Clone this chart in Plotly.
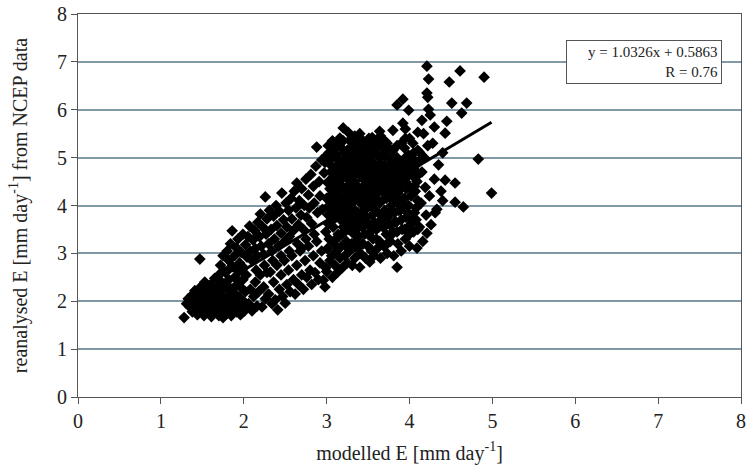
import plotly.graph_objects as go

# Estimated (modelled E, reanalysed E) pairs, grouped by region
low_cluster = [
(1.28,1.66),(1.31,1.95),(1.33,2.05),(1.35,1.88),(1.37,2.12),(1.38,1.78),(1.40,2.00),(1.41,2.22),(1.42,1.85),(1.44,1.72),
(1.45,2.08),(1.46,1.95),(1.47,2.88),(1.48,2.30),(1.49,1.80),(1.50,2.15),(1.51,1.98),(1.52,1.70),(1.53,2.40),(1.54,2.05),
(1.55,1.88),(1.56,2.25),(1.57,1.76),(1.58,2.10),(1.59,1.95),(1.60,2.35),(1.61,1.68),(1.62,2.02),(1.63,2.18),(1.64,1.85),
(1.65,2.48),(1.66,1.92),(1.67,2.28),(1.68,1.74),(1.69,2.10),(1.70,2.55),(1.71,1.98),(1.72,2.20),(1.73,1.82),(1.74,2.38),
(1.75,1.66),(1.76,2.05),(1.77,2.62),(1.78,1.90),(1.79,2.30),(1.80,1.75),(1.81,2.12),(1.82,2.45),(1.83,1.95),(1.84,2.70),
(1.85,1.70),(1.86,2.25),(1.87,2.02),(1.88,1.85),(1.89,2.50),(1.90,2.15),(1.91,1.78),(1.92,2.35),(1.93,1.95),(1.94,2.62),
(1.95,2.08),(1.96,1.72),(1.97,2.28),(1.98,1.88),(1.99,2.45),(2.00,2.00),(2.01,1.80),(2.02,2.20),(2.03,2.55),(2.05,1.92),
(1.36,1.98),(1.43,2.15),(1.52,1.85),(1.58,1.80),(1.63,1.95),(1.69,1.88),(1.74,1.95),(1.79,2.05),(1.84,1.92),(1.90,1.98),
(1.46,1.82),(1.55,2.12),(1.66,2.20),(1.72,2.42),(1.81,2.32),(1.88,2.15),(1.62,1.75),(1.70,1.70),(1.78,1.72),(1.94,1.82),
]

upper_band = [
(1.72,2.75),(1.75,2.95),(1.78,2.60),(1.80,3.05),(1.82,2.85),(1.84,3.20),(1.86,3.47),(1.87,2.72),(1.89,2.95),(1.91,3.12),
(1.93,3.30),(1.95,2.80),(1.97,3.02),(1.99,3.40),(2.00,2.70),(2.02,3.18),(2.04,2.92),(2.05,3.35),(2.07,3.57),(2.08,3.05),
(2.10,2.85),(2.11,3.28),(2.13,3.48),(2.14,3.10),(2.16,2.95),(2.17,3.65),(2.19,3.35),(2.20,3.82),(2.21,3.15),(2.23,3.55),
(2.24,2.98),(2.26,4.18),(2.27,3.40),(2.28,3.72),(2.30,3.20),(2.31,3.90),(2.33,3.50),(2.34,3.05),(2.36,3.78),(2.37,3.30),
(2.39,4.00),(2.40,3.58),(2.42,3.15),(2.43,3.88),(2.45,3.42),(2.46,4.26),(2.48,3.70),(2.49,3.25),(2.51,4.05),(2.52,3.55),
(2.54,3.90),(2.55,3.35),(2.57,4.15),(2.58,3.72),(2.60,3.48),(2.61,4.30),(2.63,3.95),(2.64,4.47),(2.66,3.60),(2.67,4.10),
(2.69,3.80),(2.70,4.35),(2.72,3.50),(2.73,4.00),(2.75,4.55),(2.76,3.75),(2.78,4.22),(2.79,3.95),(2.81,4.65),(2.82,3.62),
(2.84,4.40),(2.85,4.05),(2.87,4.82),(2.88,5.22),(2.89,3.85),(2.91,4.50),(2.92,4.20),(2.94,4.95),(2.95,3.92),(2.97,4.68),
]

lower_band = [
(2.06,1.95),(2.08,2.25),(2.10,1.80),(2.12,2.10),(2.14,2.40),(2.16,1.90),(2.18,2.20),(2.20,2.55),(2.22,1.88),(2.24,2.30),
(2.26,2.05),(2.28,2.60),(2.30,2.15),(2.32,2.61),(2.34,1.95),(2.36,2.40),(2.38,2.03),(2.40,2.75),(2.41,1.82),(2.43,2.25),
(2.45,2.55),(2.47,2.10),(2.49,2.85),(2.50,1.96),(2.52,2.35),(2.54,2.65),(2.56,2.20),(2.58,2.95),(2.60,2.45),(2.62,2.15),
(2.64,2.75),(2.66,2.35),(2.68,3.05),(2.70,2.55),(2.70,3.11),(2.72,2.25),(2.74,2.85),(2.76,2.50),(2.78,3.15),(2.80,2.65),
(2.82,2.35),(2.84,2.95),(2.86,2.60),(2.88,3.25),(2.90,2.45),(2.92,2.80),(2.94,3.05),(2.96,2.44),(2.98,2.30),(2.99,2.70),
(2.15,2.65),(2.25,2.75),(2.35,2.85),(2.45,2.95),(2.55,3.05),(2.65,3.20),(2.75,3.30),(2.85,3.40),
]

core = [
(3.00,2.62),(3.01,3.10),(2.99,3.45),(3.02,3.80),(3.00,4.15),(3.01,4.48),(2.98,4.90),(3.02,5.25),
(3.04,2.85),(3.03,3.30),(3.05,3.65),(3.03,4.00),(3.04,4.35),(3.05,4.70),(3.03,5.10),
(3.07,2.50),(3.06,2.95),(3.08,3.55),(3.06,3.90),(3.07,4.25),(3.08,4.60),(3.06,5.00),(3.07,5.35),
(3.10,2.75),(3.09,3.20),(3.11,3.75),(3.09,4.10),(3.10,4.45),(3.11,4.80),(3.09,5.15),
(3.13,2.60),(3.12,3.05),(3.14,3.40),(3.12,3.95),(3.13,4.30),(3.14,4.65),(3.12,5.05),
(3.16,2.90),(3.15,3.35),(3.17,3.70),(3.15,4.20),(3.16,4.55),(3.17,4.90),(3.15,5.30),
(3.19,2.70),(3.18,3.15),(3.20,3.55),(3.18,3.85),(3.19,4.40),(3.20,4.75),(3.18,5.20),
(3.22,2.95),(3.21,3.45),(3.23,4.05),(3.21,4.35),(3.22,4.65),(3.23,5.00),(3.26,5.53),
(3.25,2.80),(3.24,3.25),(3.26,3.60),(3.24,3.90),(3.25,4.25),(3.26,4.55),(3.24,4.85),(3.25,5.15),
(3.28,3.05),(3.27,3.50),(3.29,3.80),(3.27,4.10),(3.28,4.45),(3.29,4.75),(3.27,5.05),(3.28,5.35),
(3.31,2.75),(3.30,3.20),(3.32,3.65),(3.30,3.95),(3.31,4.30),(3.32,4.60),(3.30,4.95),(3.31,5.25),
(3.34,2.90),(3.33,3.40),(3.35,3.75),(3.33,4.15),(3.34,4.50),(3.35,4.80),(3.33,5.10),(3.34,5.45),
(3.37,3.10),(3.36,3.55),(3.38,3.85),(3.36,4.25),(3.37,4.40),(3.38,4.70),(3.36,5.00),(3.37,5.30),
(3.40,2.71),(3.41,3.00),(3.39,3.35),(3.40,3.70),(3.41,4.05),(3.39,4.35),(3.40,4.65),(3.41,4.90),(3.39,5.20),(3.40,5.50),
(3.44,3.20),(3.43,3.55),(3.45,3.90),(3.43,4.20),(3.44,4.55),(3.45,4.80),(3.43,5.05),(3.44,5.35),
(3.47,2.90),(3.46,3.40),(3.48,3.75),(3.46,4.10),(3.47,4.45),(3.48,4.70),(3.46,4.95),(3.47,5.25),
(3.52,2.82),(3.50,3.15),(3.51,3.60),(3.49,3.95),(3.50,4.30),(3.51,4.60),(3.49,4.85),(3.50,5.15),(3.51,5.40),
(3.54,3.05),(3.53,3.45),(3.55,3.80),(3.53,4.15),(3.54,4.50),(3.55,4.75),(3.53,5.00),(3.54,5.30),
(3.57,2.95),(3.56,3.30),(3.58,3.65),(3.56,4.00),(3.57,4.40),(3.58,4.65),(3.56,4.90),(3.57,5.20),
(3.61,3.10),(3.60,3.50),(3.62,3.85),(3.60,4.25),(3.61,4.55),(3.62,4.80),(3.60,5.10),(3.61,5.35),
(3.65,2.90),(3.64,3.25),(3.66,3.70),(3.64,4.05),(3.65,4.45),(3.66,4.70),(3.64,5.00),
(3.69,3.15),(3.68,3.55),(3.70,3.90),(3.68,4.30),(3.69,4.60),(3.70,4.85),(3.68,5.20),
(3.73,3.00),(3.72,3.40),(3.74,3.75),(3.72,4.15),(3.73,4.50),(3.74,4.75),(3.72,5.05),(3.73,5.30),
(3.77,3.25),(3.76,3.60),(3.78,4.00),(3.76,4.40),(3.77,4.65),(3.78,4.95),
(3.81,2.95),(3.80,3.45),(3.82,3.85),(3.80,4.25),(3.81,4.55),(3.82,4.80),(3.80,5.15),(3.80,5.57),
(3.85,2.71),(3.86,3.20),(3.84,3.65),(3.85,4.05),(3.86,4.45),(3.84,4.70),(3.85,5.00),
(3.90,3.05),(3.91,3.50),(3.89,3.90),(3.90,4.35),(3.91,4.60),(3.89,4.90),(3.90,5.30),(3.92,5.72),
(3.95,3.30),(3.96,3.75),(3.94,4.15),(3.95,4.50),(3.96,4.80),(3.94,5.20),(3.95,5.60),
(4.00,3.15),(4.01,3.60),(3.99,4.00),(4.00,4.40),(4.01,4.70),(3.99,5.05),(4.00,5.40),
(4.05,3.45),(4.06,3.85),(4.04,4.25),(4.05,4.60),(4.06,4.95),(4.04,5.30),
(4.09,3.11),(4.08,3.70),(4.10,4.10),(4.09,4.50),(4.08,4.85),(4.10,5.15),
]

core_fill = [
(3.02,3.62),(3.05,4.52),(3.03,4.88),(3.08,3.98),(3.06,4.32),(3.11,3.30),(3.10,4.62),(3.12,4.98),
(3.14,3.82),(3.16,4.12),(3.15,4.72),(3.19,3.40),(3.18,4.02),(3.20,4.58),(3.21,5.10),(3.23,3.72),
(3.22,4.20),(3.25,4.70),(3.26,3.10),(3.28,3.95),(3.27,4.30),(3.29,4.90),(3.30,5.40),(3.32,3.48),
(3.31,4.08),(3.33,4.65),(3.35,3.25),(3.34,3.90),(3.36,4.35),(3.38,4.95),(3.37,5.15),(3.39,3.55),
(3.41,4.20),(3.40,4.80),(3.42,5.35),(3.44,3.75),(3.45,4.38),(3.43,4.65),(3.47,3.60),(3.46,4.25),
(3.48,4.88),(3.49,5.30),(3.50,3.40),(3.52,4.10),(3.51,4.45),(3.53,4.72),(3.55,3.62),(3.54,4.32),
(3.56,5.10),(3.58,3.90),(3.57,4.55),(3.59,5.30),(3.60,3.30),(3.62,4.10),(3.61,4.70),(3.63,3.55),
(3.64,4.30),(3.66,4.85),(3.65,5.25),(3.67,3.80),(3.68,4.12),(3.70,4.48),(3.69,5.05),(3.71,3.58),
(3.72,4.30),(3.74,4.62),(3.73,3.20),(3.76,3.85),(3.75,4.20),(3.77,4.85),(3.79,3.40),(3.78,4.52),
(3.80,5.00),(3.82,3.65),(3.81,4.10),(3.83,4.40),(3.85,3.45),(3.84,4.88),(3.87,3.90),(3.86,4.25),
(3.88,4.60),(3.90,3.70),(3.89,4.10),(3.92,4.75),(3.94,3.50),(3.93,4.00),(3.96,4.35),(3.95,5.00),
(3.98,3.85),(3.97,4.60),(4.00,3.40),(4.02,4.20),(4.01,4.90),(4.03,3.70),(4.06,4.40),(4.05,4.78),
(4.08,3.95),(4.07,4.30),(4.10,3.50),(4.11,4.65),(3.00,5.05),(3.10,5.30),(3.20,5.35),(3.30,5.10),
(3.45,5.15),(3.55,5.42),(3.65,5.45),(3.70,5.35),(3.75,5.20),(3.85,5.25),(3.95,5.40),(4.05,5.10),
]

right_fringe = [
(4.12,3.55),(4.14,4.05),(4.15,4.70),(4.16,3.25),(4.18,5.00),(4.19,4.38),(4.20,3.80),(4.21,3.42),(4.22,5.25),(4.24,4.20),
(4.26,3.60),(4.28,5.30),(4.30,4.55),(4.31,3.85),(4.30,5.64),(4.33,3.92),(4.35,4.85),(4.38,4.30),(4.40,5.10),(4.43,4.53),
(4.43,5.51),(4.12,5.11),(4.15,5.78),(4.17,5.50),(4.25,5.89),(4.23,6.01),(4.45,5.76),(4.13,4.95),(4.40,4.10),(4.10,5.53),
]

outliers = [
(4.21,6.91),(4.61,6.81),(4.90,6.68),(4.23,6.64),(4.48,6.58),(4.21,6.35),(4.22,6.26),(3.92,6.22),(3.85,6.10),(3.99,5.99),
(4.51,6.14),(4.69,6.14),(4.63,5.93),(4.83,4.97),(4.99,4.26),(4.55,4.07),(4.65,3.97),(4.55,4.47),(3.64,5.55),(3.20,5.62),
(3.16,5.41),
]

# Linear fit reported on the chart
fit_slope = 1.0326
fit_intercept = 0.5863
fit_r = 0.76
fit_x_range = [1.3, 4.99]

x_ticks = [0, 1, 2, 3, 4, 5, 6, 7, 8]
y_ticks = [0, 1, 2, 3, 4, 5, 6, 7, 8]

all_pts = low_cluster + upper_band + lower_band + core + core_fill + right_fringe + outliers
xs = [p[0] for p in all_pts]
ys = [p[1] for p in all_pts]

FONT = "Liberation Serif, Times New Roman, serif"
AXC = "#555555"
GRID = "#8199a6"

fig = go.Figure()
fig.add_trace(go.Scatter(
    x=xs, y=ys, mode="markers",
    marker=dict(symbol="diamond", size=9, color="black", line=dict(width=0)),
    showlegend=False, hoverinfo="x+y"))
fig.add_trace(go.Scatter(
    x=fit_x_range, y=[fit_slope * v + fit_intercept for v in fit_x_range],
    mode="lines", line=dict(color="black", width=3), showlegend=False))

fig.add_annotation(
    x=7.77, y=7.45, xref="x", yref="y", xanchor="right", yanchor="top",
    text=f"y = {fit_slope}x + {fit_intercept}<br>R = {fit_r}",
    showarrow=False, align="right", width=148,
    font=dict(family=FONT, size=15, color="#222"),
    bordercolor="#555", borderwidth=1, borderpad=3, bgcolor="white")

fig.update_layout(
    width=746, height=472,
    margin=dict(l=78, r=5, t=14, b=75),
    paper_bgcolor="white", plot_bgcolor="white",
    font=dict(family=FONT, size=20, color="#222"),
)
fig.update_xaxes(
    range=[0, 8], tickvals=x_ticks, showgrid=False, zeroline=False,
    showline=True, linecolor=AXC, linewidth=1, mirror=True,
    ticks="outside", ticklen=6, tickcolor=AXC, automargin=False,
    ticklabeloverflow="allow",
    title=dict(text="modelled E [mm day<sup>-1</sup>]", standoff=14,
               font=dict(family=FONT, size=20)),
    tickfont=dict(family=FONT, size=20))
fig.update_yaxes(
    range=[0, 8], tickvals=y_ticks, showgrid=True, gridcolor=GRID, gridwidth=1.5,
    zeroline=False, showline=True, linecolor=AXC, linewidth=1, mirror=True,
    ticks="outside", ticklen=6, tickcolor=AXC, automargin=False,
    ticklabeloverflow="allow",
    title=dict(text="reanalysed E [mm day<sup>-1</sup>] from NCEP data", standoff=24,
               font=dict(family=FONT, size=20)),
    tickfont=dict(family=FONT, size=20))

# remove the default page margin so the figure sits at the window's top-left corner
fig.write_html("out.html", config={"displayModeBar": False},
               post_script="document.body.style.margin='0';document.body.style.overflow='hidden';")
